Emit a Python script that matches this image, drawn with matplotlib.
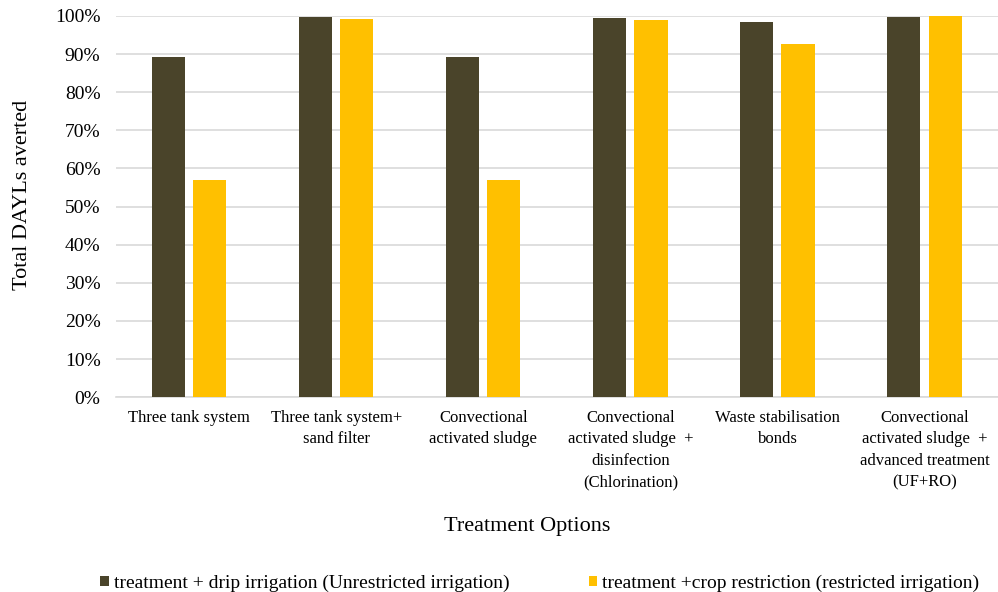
import numpy as np
import matplotlib
matplotlib.use('Agg')
import matplotlib.pyplot as plt
from matplotlib.ticker import PercentFormatter

# Data
categories = [
    'Three tank system',
    'Three tank system+\nsand filter',
    'Convectional\nactivated sludge',
    'Convectional\nactivated sludge  +\ndisinfection\n(Chlorination)',
    'Waste stabilisation\nbonds',
    'Convectional\nactivated sludge  +\nadvanced treatment\n(UF+RO)',
]
unrestricted = [89.3, 99.7, 89.3, 99.5, 98.4, 99.8]
restricted = [57.0, 99.2, 57.0, 99.0, 92.7, 100.0]
series_names = ['treatment + drip irrigation (Unrestricted irrigation)',
                'treatment +crop restriction (restricted irrigation)']
y_ticks = np.arange(0, 101, 10)

plt.rcParams['font.family'] = ['Liberation Serif', 'DejaVu Serif']

fig = plt.figure(figsize=(9.98, 5.92), dpi=100)
ax = fig.add_axes([0.116, 0.329, 0.884, 0.644])

x = np.arange(len(categories))
width = 0.225
offset = 0.14
ax.bar(x - offset, unrestricted, width, color='#4A442A', label=series_names[0], zorder=3)
ax.bar(x + offset, restricted, width, color='#FFC000', label=series_names[1], zorder=3)

ax.set_xlim(-0.5, len(categories) - 0.5)
ax.set_ylim(0, 100)
ax.set_yticks(y_ticks)
ax.yaxis.set_major_formatter(PercentFormatter(decimals=0))
ax.set_xticks(x)
ax.set_xticklabels(categories, fontsize=12, linespacing=1.45, va='top')
ax.tick_params(axis='both', length=0, colors='#000000')
ax.tick_params(axis='y', labelsize=14, pad=11)
ax.tick_params(axis='x', pad=9)
ax.grid(axis='y', color='#D9D9D9', linewidth=1.2, zorder=0)

for side in ['top', 'right', 'left']:
    ax.spines[side].set_visible(False)
ax.spines['bottom'].set_color('#D9D9D9')
ax.spines['bottom'].set_linewidth(1.2)

fig.text(0.023, 0.671, 'Total DAYLs averted', rotation=90, ha='center', va='center', fontsize=16)
fig.text(0.528, 0.110, 'Treatment Options', ha='center', va='center', fontsize=16)

fig.legend(loc='center', bbox_to_anchor=(0.541, 0.014), ncol=2, frameon=False,
           fontsize=14, handlelength=0.42, handleheight=0.42, handletextpad=0.26,
           columnspacing=4.1, borderpad=0)

fig.savefig('out.png', dpi=100)
